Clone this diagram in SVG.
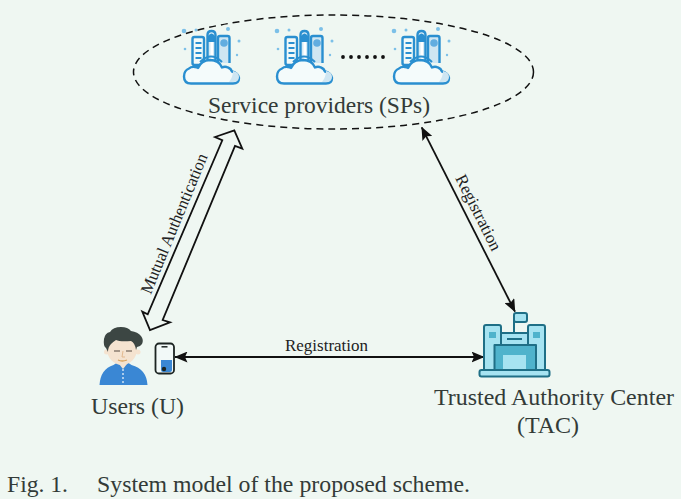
<svg xmlns="http://www.w3.org/2000/svg" width="681" height="499" viewBox="0 0 681 499">
<style>
text{font-family:"Liberation Serif","Times New Roman",serif;fill:#333b38}
.big{font-size:23px}
.small{font-size:17px;fill:#222}
.conn{fill:none;stroke:#111;stroke-width:1.800}
.ib{stroke:#2a8fd0;stroke-width:2.400;stroke-linejoin:round}
.dot{fill:#7cc0e8}
.tac{stroke:#1f6f86;stroke-width:2;stroke-linejoin:round}
</style>
<defs>
<marker id="ah" viewBox="0 0 13 11" refX="12.500" refY="5.500" markerWidth="13" markerHeight="11" markerUnits="userSpaceOnUse" orient="auto-start-reverse"><path d="M0 0L13 5.500L0 11L2.500 5.500Z" fill="#111"/></marker>
<g id="sp">
<circle class="dot" cx="184" cy="31" r="2.300"/><circle class="dot" cx="196" cy="30" r="1.500"/><circle class="dot" cx="228" cy="29" r="2"/><circle class="dot" cx="239" cy="41" r="1.500"/><circle class="dot" cx="185" cy="49" r="1.300"/><circle class="dot" cx="237" cy="55" r="1.200"/>
<rect class="ib" x="192.500" y="37" width="11.500" height="28" rx="2" fill="#f2f9f8"/>
<path d="M195.500 43h6M195.500 48h6M195.500 53h6M195.500 58h6" stroke="#2a8fd0" stroke-width="2" fill="none"/>
<path class="ib" d="M207.500 63V35q0-4 4-4t4 4V63" fill="#d6ebf5"/>
<rect x="210.500" y="41" width="2.500" height="20" fill="#fff"/>
<path d="M208 36q3.500-5 7 0v6h-7z" fill="#2a8fd0"/>
<path class="ib" d="M218 63V38q0-2 2-2h7.500q2 0 2 2V63" fill="#cfe6f2"/>
<circle cx="224" cy="43" r="3.800" fill="#62ade0"/>
<path d="M200 62q11-11 22 0" stroke="#2a8fd0" stroke-width="2" fill="none"/>
<path class="ib" d="M191 83.500q-7 0-7-7 0-6 5-8 2-2 6-1.500 2 0 3 1 3-7.500 12-8 9 0 12 7.500 3-1.500 6 0 3 1 4 4 6 1.500 7 6.500 0 5.500-6 5.500z" fill="#f4fbfb"/>
<path d="M233 71q6 1 6 6 0 5-6 5h-4q4-5 4-11z" fill="#cfe6f2"/>
</g>
</defs>
<rect width="681" height="499" fill="#eff7f2"/>
<g id="connectors">
<path class="conn" d="M175 357H484" marker-start="url(#ah)" marker-end="url(#ah)"/>
<path class="conn" d="M421.700 127.300L515 311.700" marker-start="url(#ah)" marker-end="url(#ah)"/>
<path d="M234.300 130.300L242.300 148.700L235 146L162.700 320L170 322.300L150 330L142.300 311.700L147.700 314.300L222.300 140.300L215 137Z" fill="none" stroke="#111" stroke-width="1.800" stroke-linejoin="miter"/>
<text class="small" transform="translate(150.700 295) rotate(-67.600)" textLength="150" lengthAdjust="spacingAndGlyphs">Mutual Authentication</text>
<text class="small" transform="translate(455 178) rotate(63.400)" textLength="83" lengthAdjust="spacingAndGlyphs">Registration</text>
<text class="small" x="285" y="351" textLength="83" lengthAdjust="spacingAndGlyphs">Registration</text>
</g>
<g id="sps">
<ellipse cx="333.500" cy="72" rx="200" ry="57" fill="none" stroke="#111" stroke-width="1.500" stroke-dasharray="7 5"/>
<use href="#sp"/>
<use href="#sp" x="93"/>
<use href="#sp" x="210"/>
<g fill="#111"><circle cx="343" cy="57" r="1.900"/><circle cx="351" cy="57" r="1.900"/><circle cx="359" cy="57" r="1.900"/><circle cx="367" cy="57" r="1.900"/><circle cx="375" cy="57" r="1.900"/><circle cx="383" cy="57" r="1.900"/></g>
<text class="big" x="208" y="113" textLength="222" lengthAdjust="spacingAndGlyphs">Service providers (SPs)</text>
</g>
<g id="users">
<path d="M99.500 385q1-16 14-20l6-4h6l6 4q15 4 16 20z" fill="#3a87d4"/>
<path d="M119 356h8v8l-4 5-4-5z" fill="#f5e3d0"/>
<path d="M123 369V385" stroke="#cfe2f2" stroke-width="1.500" stroke-dasharray="2 2"/>
<ellipse cx="122" cy="349" rx="15" ry="16" fill="#f5e3d0"/>
<circle cx="106.500" cy="352" r="2.500" fill="#f5e3d0"/><circle cx="138" cy="352" r="2.500" fill="#f5e3d0"/>
<path d="M106 348q-3-2-2-9 1-6 6-7 3-5 11-5 7 0 10 4 7 1 10 5 3 4 1 8-2 3-5 3l-1 3q-1-7-5-9-11 1-15-1-3 2-5 4-3 3-3 8z" fill="#3c4643"/>
<path d="M114 351h6M126 351h6" stroke="#8a7d70" stroke-width="1.300"/>
<path d="M123 351l-1 6h3" stroke="#e3b98f" stroke-width="1" fill="none"/>
<path d="M118 360q4 2 9 0" stroke="#d9a25a" stroke-width="1.300" fill="none"/>
<rect x="155.500" y="343.500" width="18.500" height="30" rx="3.500" fill="#f2f9f8" stroke="#1c2422" stroke-width="1.800"/>
<path d="M161.500 346.800h6" stroke="#1c2422" stroke-width="1.500"/>
<path d="M161 360h11v10q0 2-2 2h-7q-2 0-2-2z" fill="#3a87d4"/>
<circle cx="164" cy="369" r="2.200" fill="#1c2422"/>
<text class="big" x="91" y="414" textLength="93" lengthAdjust="spacingAndGlyphs">Users (U)</text>
</g>
<g id="tac">
<path class="tac" d="M514 333V315" fill="none"/>
<rect class="tac" x="514" y="313" width="13" height="9" rx="2" fill="#a6e3f1"/>
<path class="tac" d="M484 370V327q0-2 2-2h13q2 0 2 2V345H528V327q0-2 2-2h13q2 0 2 2V370z" fill="#a6e3f1"/>
<rect x="489" y="332" width="7" height="6" fill="#4fb3cc"/><rect x="533" y="332" width="7" height="6" fill="#4fb3cc"/>
<rect class="tac" x="501" y="333" width="27" height="13" fill="#a6e3f1"/>
<path d="M507 339h15" stroke="#1f6f86" stroke-width="2"/>
<rect class="tac" x="494.500" y="345" width="41.500" height="26" fill="#4fb3cc"/>
<rect x="503" y="355" width="23" height="15" fill="#a6e3f1"/>
<rect class="tac" x="479.500" y="370" width="70" height="6.500" rx="2" fill="#a6e3f1"/>
<text class="big" x="434" y="405" textLength="240" lengthAdjust="spacingAndGlyphs">Trusted Authority Center</text>
<text class="big" x="517" y="433" textLength="62" lengthAdjust="spacingAndGlyphs">(TAC)</text>
</g>
<g id="caption">
<text class="big" x="7" y="492" textLength="61" lengthAdjust="spacingAndGlyphs">Fig. 1.</text>
<text class="big" x="97" y="492" textLength="373" lengthAdjust="spacingAndGlyphs">System model of the proposed scheme.</text>
</g>
</svg>
